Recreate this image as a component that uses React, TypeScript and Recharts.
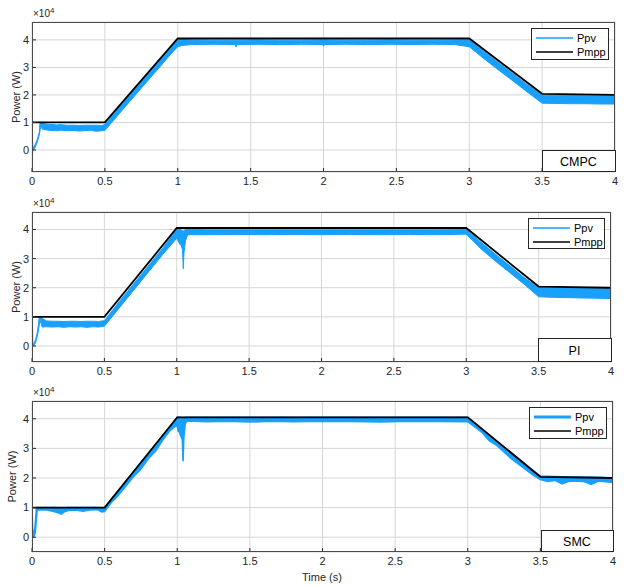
import React from 'react';
import {
  ComposedChart,
  Area,
  Line,
  XAxis,
  YAxis,
  CartesianGrid,
} from 'recharts';

// time axis / shared Pmpp reference (W)
const xTicks = [0, 0.5, 1, 1.5, 2, 2.5, 3, 3.5, 4];
const yTicks = [0, 10000, 20000, 30000, 40000];
const pmppT = [0, 0.5, 1, 3, 3.5, 4];
const pmppW = [10000, 10000, 40500, 40500, 20400, 20000];

// CMPC - Ppv envelope (lo / hi), W
const cmpcT = [0, 0.002, 0.005, 0.01, 0.02, 0.03, 0.04, 0.05, 0.055, 0.062, 0.07, 0.1, 0.13, 0.17, 0.2, 0.24, 0.28, 0.32, 0.36, 0.4, 0.44, 0.48, 0.5, 0.6, 0.7, 0.8, 0.9, 0.95, 1.0, 1.03, 1.1, 1.25, 1.395, 1.4, 1.405, 1.55, 1.7, 1.85, 1.995, 2.0, 2.005, 2.15, 2.3, 2.45, 2.6, 2.75, 2.9, 3.0, 3.1, 3.2, 3.3, 3.4, 3.5, 3.6, 3.7, 3.8, 3.9, 4.0];
const cmpcLo = [-2500, -2500, -500, 0, 800, 2000, 3500, 5500, 7000, 9000, 7600, 7300, 7100, 7000, 7200, 7000, 7100, 6900, 7000, 7200, 6800, 7000, 7100, 13300, 19400, 25500, 31600, 34700, 37500, 38000, 38300, 38400, 38300, 37400, 38300, 38400, 38300, 38400, 38300, 37700, 38300, 38400, 38300, 38400, 38300, 38400, 38300, 37500, 33200, 29100, 25100, 21000, 17000, 16900, 16800, 16800, 16700, 16700];
const cmpcHi = [10000, 10000, 1500, 800, 1800, 3000, 4500, 6500, 10000, 10000, 9700, 9400, 9300, 9100, 9200, 9000, 9000, 8900, 9000, 9000, 9000, 8900, 9300, 15600, 21700, 27800, 33900, 37000, 40000, 40200, 40000, 39900, 39900, 39900, 39900, 40000, 39900, 39900, 40000, 40000, 40000, 39900, 39900, 40000, 39900, 39900, 40000, 40000, 35900, 31800, 27800, 23700, 19900, 19800, 19800, 19700, 19700, 19700];

// PI - Ppv envelope
const piT = [0, 0.003, 0.006, 0.015, 0.025, 0.035, 0.045, 0.05, 0.055, 0.07, 0.1, 0.14, 0.18, 0.22, 0.26, 0.3, 0.34, 0.38, 0.42, 0.46, 0.5, 0.6, 0.7, 0.8, 0.9, 1.0, 1.01, 1.02, 1.03, 1.04, 1.045, 1.05, 1.06, 1.07, 1.08, 1.2, 1.4, 1.6, 1.8, 2.0, 2.2, 2.4, 2.6, 2.8, 3.0, 3.1, 3.2, 3.3, 3.4, 3.5, 3.6, 3.7, 3.8, 3.9, 4.0];
const piLo = [0, 0, 0, 300, 1200, 3000, 5500, 7000, 9000, 6500, 6600, 6500, 6600, 6400, 6600, 6500, 6600, 6400, 6600, 6500, 6800, 12900, 19000, 25100, 31200, 37000, 36000, 35000, 34500, 33000, 26500, 32000, 36000, 37500, 38200, 38200, 38300, 38200, 38300, 38200, 38300, 38200, 38300, 38200, 38400, 33400, 29200, 25200, 21200, 16900, 16700, 16600, 16500, 16400, 16300];
const piHi = [10000, 10000, 400, 1000, 2200, 4200, 7500, 10000, 10000, 9500, 8600, 8500, 8500, 8400, 8500, 8500, 8400, 8500, 8500, 8400, 8700, 15100, 21200, 27300, 33400, 40000, 40300, 40300, 40000, 39500, 39500, 39600, 40000, 40300, 40300, 39900, 39900, 39900, 39900, 39900, 39900, 39900, 39900, 39900, 40000, 35700, 31600, 27600, 23500, 20000, 19900, 19900, 19800, 19800, 19700];

// SMC - Ppv envelope
const smcT = [0, 0.005, 0.01, 0.02, 0.025, 0.03, 0.035, 0.04, 0.1, 0.15, 0.18, 0.2, 0.22, 0.25, 0.3, 0.35, 0.4, 0.45, 0.48, 0.5, 0.55, 0.57, 0.6, 0.7, 0.75, 0.8, 0.85, 0.9, 0.95, 1.0, 1.005, 1.015, 1.025, 1.035, 1.04, 1.045, 1.055, 1.07, 1.2, 1.35, 1.5, 1.65, 1.8, 2.0, 2.2, 2.4, 2.6, 2.8, 3.0, 3.1, 3.15, 3.2, 3.3, 3.4, 3.45, 3.5, 3.55, 3.6, 3.65, 3.7, 3.8, 3.85, 3.9, 4.0];
const smcLo = [0, 0, 0, 1000, 3000, 6000, 9000, 9300, 9200, 8700, 8300, 7800, 8500, 9000, 9200, 8800, 9200, 9300, 8500, 8700, 12000, 12800, 14500, 20500, 23000, 26500, 29000, 32800, 36000, 38000, 36000, 35500, 34000, 33000, 25700, 33500, 38500, 39300, 39000, 39200, 38900, 39200, 39000, 39200, 39100, 38900, 39200, 39100, 39000, 35300, 32500, 31000, 26500, 22800, 21000, 19500, 18800, 19200, 18000, 19000, 18800, 17800, 19000, 18500];
const smcHi = [10000, 2000, 800, 3000, 6000, 9500, 10000, 10000, 10000, 10000, 9900, 9800, 9900, 10000, 10000, 10000, 10000, 10000, 9800, 9900, 13000, 14200, 16000, 22100, 25200, 28200, 31300, 34300, 37400, 40500, 40500, 40500, 40500, 40300, 39800, 40000, 40500, 40500, 40500, 40500, 40500, 40500, 40500, 40500, 40500, 40500, 40500, 40500, 40500, 36500, 34500, 32400, 28400, 24400, 22400, 20600, 20600, 20500, 20400, 20400, 20300, 20300, 20200, 20000];

const BLUE = '#18a0fb';
const FONT = '"Liberation Sans", Arial, Helvetica, sans-serif';
const INK = '#262626';

const toRows = (t: number[], lo: number[], hi: number[]) =>
  t.map((x, i) => ({ t: x, band: [lo[i], hi[i]] }));
const mppRows = pmppT.map((t, i) => ({ t, p: pmppW[i] }));

const panels = [
  {
    name: 'CMPC',
    rows: toRows(cmpcT, cmpcLo, cmpcHi),
    top: 22, bottom: 172, right: 615,
    yDomain: [-8000, 46500],
    legend: { x: 531, y: 28, w: 77, h: 31 },
    tag: { x: 542, y: 150, w: 73, h: 22 },
    ylabelX: 17,
    ppvWidth: 1,
  },
  {
    name: 'PI',
    rows: toRows(piT, piLo, piHi),
    top: 212, bottom: 362, right: 611,
    yDomain: [-5500, 46000],
    legend: { x: 528, y: 218, w: 76, h: 30 },
    tag: { x: 538, y: 338, w: 73, h: 24 },
    ylabelX: 17,
    ppvWidth: 1,
  },
  {
    name: 'SMC',
    rows: toRows(smcT, smcLo, smcHi),
    top: 401, bottom: 552, right: 613,
    yDomain: [-5000, 46000],
    legend: { x: 529, y: 407, w: 77, h: 31 },
    tag: { x: 541, y: 530, w: 72, h: 22 },
    ylabelX: 13,
    ppvWidth: 1.6,
  },
];

const LEFT = 32;
const W = 637;
const H = 586;
const tickStyle = { fontSize: 11, fill: INK, fontFamily: FONT };

function Panel({ p }: { p: (typeof panels)[number] }) {
  const h = p.bottom - p.top + 50;
  return (
    <div style={{ position: 'absolute', left: 0, top: p.top - 22 }}>
      <ComposedChart
        width={W}
        height={h}
        data={p.rows}
        margin={{ top: 22, right: W - p.right, bottom: 8, left: 2 }}
      >
        <CartesianGrid stroke="#d6d6d6" strokeWidth={1} />
        <XAxis
          dataKey="t"
          type="number"
          domain={[0, 4]}
          ticks={xTicks}
          allowDataOverflow
          axisLine={false}
          stroke={INK}
          tickSize={-4}
          tickMargin={9}
          height={20}
          tick={tickStyle}
          interval={0}
        />
        <YAxis
          type="number"
          domain={p.yDomain}
          ticks={yTicks}
          allowDataOverflow
          axisLine={false}
          stroke={INK}
          tickSize={-4}
          tickMargin={7}
          width={30}
          tick={tickStyle}
          tickFormatter={(v) => `${v / 10000}`}
          interval={0}
        />
        <Area
          dataKey="band"
          type="linear"
          stroke={BLUE}
          strokeWidth={p.ppvWidth}
          fill={BLUE}
          fillOpacity={1}
          isAnimationActive={false}
          dot={false}
          activeDot={false}
        />
        <Line
          data={mppRows}
          dataKey="p"
          type="linear"
          stroke="#000"
          strokeWidth={1.8}
          dot={false}
          activeDot={false}
          isAnimationActive={false}
        />
      </ComposedChart>
    </div>
  );
}

export default function App() {
  return (
    <div style={{ position: 'absolute', left: 0, top: 0, width: W, height: H, background: '#fff' }}>
      {panels.map((p) => (
        <Panel key={p.name} p={p} />
      ))}
      <svg
        width={W}
        height={H}
        style={{ position: 'absolute', left: 0, top: 0, pointerEvents: 'none' }}
        fontFamily={FONT}
      >
        {panels.map((p) => {
          const lg = p.legend;
          const tg = p.tag;
          const mid = (p.top + p.bottom) / 2;
          return (
            <g key={p.name}>
              <rect
                x={LEFT + 0.5}
                y={p.top + 0.5}
                width={p.right - LEFT - 1}
                height={p.bottom - p.top - 1}
                fill="none"
                stroke="#4a4a4a"
                strokeWidth={1}
              />
              <text x={33} y={p.top - 5} fontSize={10} fill={INK}>
                ×10<tspan dy={-4} fontSize={8}>4</tspan>
              </text>
              <text
                transform={`translate(${p.ylabelX + 3},${mid}) rotate(-90)`}
                textAnchor="middle"
                fontSize={11}
                fill={INK}
              >
                Power (W)
              </text>
              <rect x={lg.x + 0.5} y={lg.y + 0.5} width={lg.w} height={lg.h} fill="#fff" stroke={INK} strokeWidth={1} />
              <line x1={lg.x + 5} x2={lg.x + 42} y1={lg.y + 10} y2={lg.y + 10} stroke={BLUE} strokeWidth={p.ppvWidth > 1 ? 3 : 1.5} />
              <text x={lg.x + 46} y={lg.y + 14} fontSize={11} fill="#000">Ppv</text>
              <line x1={lg.x + 5} x2={lg.x + 42} y1={lg.y + 24} y2={lg.y + 24} stroke="#000" strokeWidth={1.5} />
              <text x={lg.x + 46} y={lg.y + 28} fontSize={11} fill="#000">Pmpp</text>
              <rect x={tg.x + 0.5} y={tg.y + 0.5} width={tg.w} height={tg.h - 1} fill="#fff" stroke={INK} strokeWidth={1} />
              <text x={tg.x + tg.w / 2} y={tg.y + tg.h / 2 + 4.5} textAnchor="middle" fontSize={12.5} fill="#000">
                {p.name}
              </text>
            </g>
          );
        })}
        <text x={322} y={581} textAnchor="middle" fontSize={11} fill={INK}>
          Time (s)
        </text>
      </svg>
    </div>
  );
}
